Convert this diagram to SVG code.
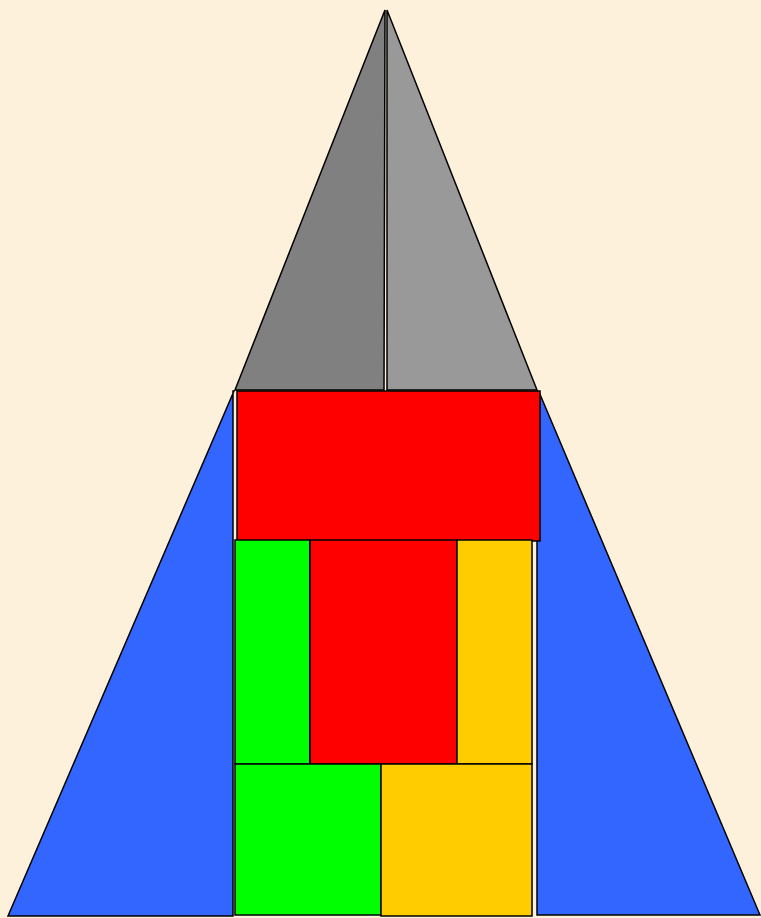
<svg xmlns="http://www.w3.org/2000/svg" width="761" height="918" viewBox="0 0 761 918">
<style>
.s{stroke:#000;stroke-width:1.5;stroke-linejoin:miter}
.gray1{fill:#808080}.gray2{fill:#999999}.blue{fill:#3366FF}.red{fill:#FF0000}.green{fill:#00FF00}.yellow{fill:#FFCC00}
</style>
<rect x="0" y="0" width="761" height="918" fill="#FDF1DC"/>
<g id="gray-left"><polygon class="s gray1" points="385,10 235,390 384,390"/></g>
<g id="gray-right"><polygon class="s gray2" points="387,10 387,390 537,390"/></g>
<g id="blue-left"><polygon class="s blue" points="234,391 233,391 233,916 8,916"/></g>
<g id="blue-right"><polygon class="s blue" points="537,392 539,392 760,915 537,915"/></g>
<g id="red-top"><rect class="s red" x="237" y="391" width="303" height="150"/></g>
<g id="green-mid"><rect class="s green" x="235" y="540" width="75" height="224"/></g>
<g id="red-mid"><rect class="s red" x="310" y="540" width="147" height="224"/></g>
<g id="yellow-mid"><rect class="s yellow" x="457" y="540" width="75" height="224"/></g>
<g id="green-bottom"><rect class="s green" x="235" y="764" width="146" height="151"/></g>
<g id="yellow-bottom"><rect class="s yellow" x="381" y="764" width="151" height="152"/></g>
<g id="connectors"></g>
</svg>
